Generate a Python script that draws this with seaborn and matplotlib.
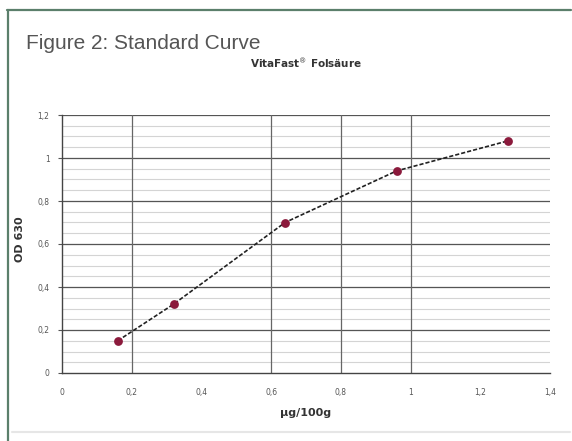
import matplotlib
matplotlib.use("Agg")
import matplotlib.pyplot as plt
import seaborn as sns
import pandas as pd
import numpy as np
from matplotlib.lines import Line2D

# Data
conc = [0.16, 0.32, 0.64, 0.96, 1.28]
od = [0.15, 0.32, 0.70, 0.94, 1.08]
x_ticks = [0, 0.2, 0.4, 0.6, 0.8, 1.0, 1.2, 1.4]
x_labels = ["0", "0,2", "0,4", "0,6", "0,8", "1", "1,2", "1,4"]
y_ticks = [0, 0.2, 0.4, 0.6, 0.8, 1.0, 1.2]
y_labels = ["0", "0,2", "0,4", "0,6", "0,8", "1", "1,2"]
v_grid = [0.2, 0.6, 0.8, 1.0]

df = pd.DataFrame({"conc": conc, "od": od})

sns.set_theme(style="white")
plt.rcParams['font.family'] = ['DejaVu Sans']

fig = plt.figure(figsize=(5.72, 4.41), dpi=100)
fig.patch.set_facecolor("white")

# card border (top and left), bottom separator
border = "#5b7f6b"
fig.add_artist(Line2D([7/572, 571/572], [1-9.5/441, 1-9.5/441], color=border, lw=1.6, transform=fig.transFigure))
fig.add_artist(Line2D([7.5/572, 7.5/572], [0, 1-9.5/441], color=border, lw=1.6, transform=fig.transFigure))
fig.add_artist(Line2D([12/572, 570/572], [1-432/441, 1-432/441], color="#e6e6e6", lw=1.5, transform=fig.transFigure))

fig.text(26/572, 1-48.7/441, "Figure 2: Standard Curve", fontsize=15, color="#555555",
         ha="left", va="baseline", family="Liberation Sans")

ax = fig.add_axes([62/572, 1-373/441, (550-62)/572, (373-115)/441])

# minor horizontal grid
for yv in np.arange(0.05, 1.2, 0.05):
    ax.axhline(yv, color="#d4d4d4", lw=0.8, zorder=0)
for yv in y_ticks[1:]:
    ax.axhline(yv, color="#555555", lw=0.9, zorder=1)
for xv in v_grid:
    ax.axvline(xv, color="#666666", lw=0.9, zorder=1)

sns.lineplot(data=df, x="conc", y="od", ax=ax, color="#222222", lw=1.2,
             linestyle=(0, (2.5, 1.2)), zorder=3)
sns.scatterplot(data=df, x="conc", y="od", ax=ax, color="#8b1a3c", s=40,
                edgecolor="#8b1a3c", linewidth=0, zorder=4)

ax.set_xlim(0, 1.4)
ax.set_ylim(0, 1.2)
ax.set_xticks(x_ticks)
ax.set_xticklabels(x_labels, fontsize=5.5, color="#555555")
ax.set_yticks(y_ticks)
ax.set_yticklabels(y_labels, fontsize=5.5, color="#555555")
ax.tick_params(axis="both", length=3, width=0.8, color="#555555", pad=8, direction="out",
               left=True, bottom=False)
ax.tick_params(axis="y", pad=6)
for s in ["top", "right"]:
    ax.spines[s].set_visible(False)
ax.spines["left"].set_color("#444444")
ax.spines["bottom"].set_color("#444444")
ax.spines["left"].set_linewidth(1.0)
ax.spines["bottom"].set_linewidth(1.0)

ax.set_xlabel("µg/100g", fontsize=8, fontweight="bold", color="#333333", labelpad=8)
ax.set_ylabel("OD 630", fontsize=8, fontweight="bold", color="#333333", labelpad=8)
ax.yaxis.set_label_coords(-0.075, 0.52)
ax.set_title("VitaFast$^{®}$ Folsäure", fontsize=7.5, fontweight="bold", color="#333333", pad=34)

fig.savefig("out.png", dpi=100, facecolor="white")
